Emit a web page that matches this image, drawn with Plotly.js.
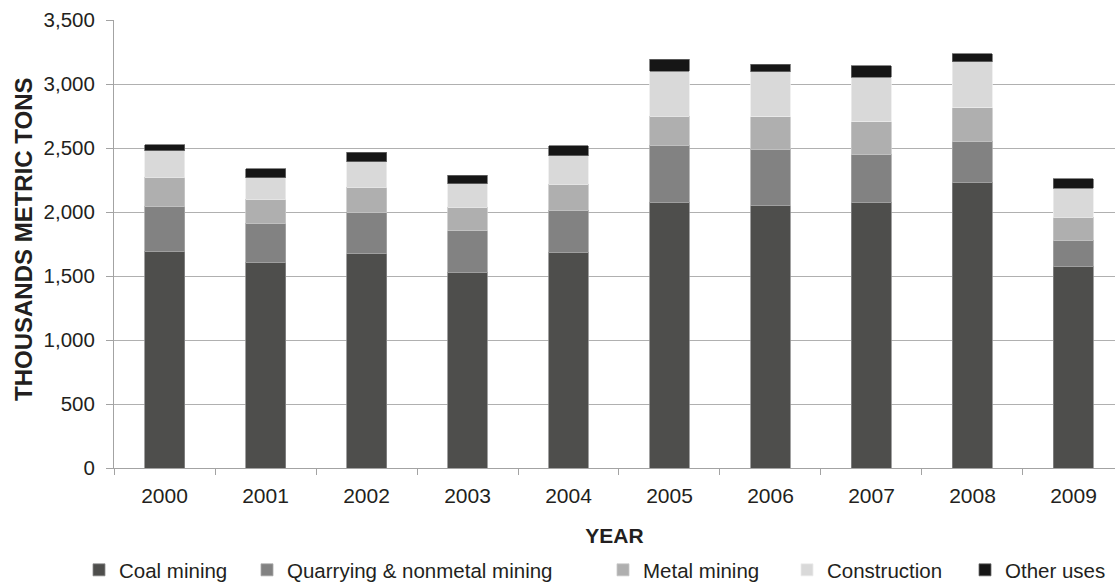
<!DOCTYPE html>
<html>
<head>
<meta charset="utf-8">
<script src="https://cdn.plot.ly/plotly-3.0.1.min.js"></script>
<style>html,body{margin:0;padding:0;background:#fff;}#chart{width:1115px;height:583px;}</style>
</head>
<body>
<div id="chart"></div>
<script>
const years = ["2000","2001","2002","2003","2004","2005","2006","2007","2008","2009"];
const coalMining = [1693,1607,1674,1531,1687,2078,2047,2078,2234,1578];
const quarrying = [351,304,323,321,326,443,445,375,318,203];
const metalMining = [227,188,196,184,203,226,253,253,263,177];
const construction = [206,167,200,185,224,354,349,346,357,229];
const otherUses = [49,70,73,65,76,94,62,91,65,71];
const yTickVals = [0,500,1000,1500,2000,2500,3000,3500];
const yTitle = "THOUSANDS METRIC TONS";
const xTitle = "YEAR";

const FONT = "'Liberation Sans', Arial, Helvetica, sans-serif";
const TXT = "#231f20";
const AX = "#a3a3a3";

const series = [
  {name:"Coal mining", y:coalMining, color:"#4e4e4c", line:"#8a8a8a", legend:"legend"},
  {name:"Quarrying & nonmetal mining", y:quarrying, color:"#828282", line:"#a8a8a8", legend:"legend2"},
  {name:"Metal mining", y:metalMining, color:"#afafaf", line:"#c8c8c8", legend:"legend3"},
  {name:"Construction", y:construction, color:"#d9d9d9", line:"#ececec", legend:"legend4"},
  {name:"Other uses", y:otherUses, color:"#161616", line:"#6a6a6a", legend:"legend5"}
];

const traces = series.map(s => ({
  type:"bar", name:s.name, x:years, y:s.y, legend:s.legend,
  marker:{color:s.color, line:{color:s.line, width:0.8}},
  hoverinfo:"x+y+name"
}));

const legendBase = {orientation:"h", xref:"container", yref:"container",
  yanchor:"middle", y:(583 - 570) / 583, xanchor:"left",
  font:{family:FONT, size:20.5, color:TXT}, bgcolor:"rgba(0,0,0,0)", borderwidth:0};
const L = (px) => px / 1115;

const layout = {
  width:1115, height:583,
  margin:{l:114, r:0, t:20, b:115},
  paper_bgcolor:"#fff", plot_bgcolor:"#fff",
  barmode:"stack", bargap:0.604,
  showlegend:true,
  font:{family:FONT, color:TXT},
  xaxis:{
    type:"category", range:[-0.5, 9.411],
    tickson:"boundaries", ticks:"outside", ticklen:6, tickcolor:AX, tickwidth:1,
    ticklabelstandoff:9,
    showline:true, linecolor:AX, linewidth:1, showgrid:false, zeroline:false,
    tickfont:{family:FONT, size:21, color:TXT},
    title:{text:"<b>" + xTitle + "</b>", font:{family:FONT, size:21, color:TXT}, standoff:22}
  },
  yaxis:{
    range:[0,3500], tickvals:yTickVals, tickformat:",d",
    ticks:"outside", ticklen:7, tickcolor:AX, tickwidth:1,
    ticklabelstandoff:7,
    showline:true, linecolor:AX, linewidth:1,
    showgrid:true, gridcolor:"#b0b0b0", gridwidth:1, zeroline:false,
    tickfont:{family:FONT, size:20.5, color:TXT}
  },
  annotations:[{
    text:"<b>" + yTitle + "</b>", textangle:-90, showarrow:false,
    xref:"paper", yref:"paper", x:(23 - 114) / 1001, y:(468 - 239) / 448,
    xanchor:"center", yanchor:"middle",
    font:{family:FONT, size:24, color:TXT}
  }],
  legend:Object.assign({}, legendBase, {x:L(79)}),
  legend2:Object.assign({}, legendBase, {x:L(247)}),
  legend3:Object.assign({}, legendBase, {x:L(603)}),
  legend4:Object.assign({}, legendBase, {x:L(787)}),
  legend5:Object.assign({}, legendBase, {x:L(965)})
};

Plotly.newPlot("chart", traces, layout, {displayModeBar:false, responsive:false});
</script>
</body>
</html>
